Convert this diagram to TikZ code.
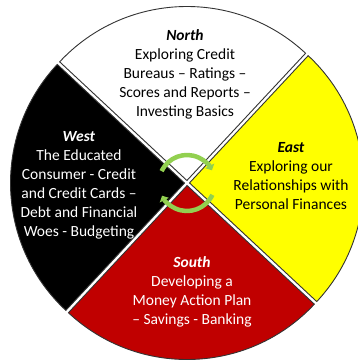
\documentclass[tikz,border=0pt]{standalone}
\usepackage{fontspec}
\setmainfont{Carlito}
\usepackage{tikz}
\usetikzlibrary{arrows.meta,positioning,calc}
\definecolor{wheelred}{RGB}{192,0,0}
\definecolor{wheelyellow}{RGB}{255,255,0}
\definecolor{cyclegreen}{RGB}{146,208,80}
\tikzset{
  wedge/.style={draw=black!80,line width=0.9pt},
  quarter text/.style={align=center,inner sep=0,font=\fontsize{15.5}{19}\selectfont},
  cycle arrow/.style={draw=cyclegreen,line width=4.5pt,-{Triangle[width=10pt,length=5pt]}}
}

\begin{document}
\begin{tikzpicture}[x=1pt,y=1pt]
    \useasboundingbox (0,0) rectangle (358,-361);
    \coordinate (c) at (187,-183);
    % Wedges: start angle / colour
    \foreach \a/\col in {47/white,137/black,227/wheelred,317/wheelyellow}
      \filldraw[wedge,fill=\col] ($(c)+(\a+45:2.5)$) -- +(\a:174)
        arc[start angle=\a,end angle=\a+90,radius=174] -- cycle;
    % Cycle arrows
    \draw[cycle arrow] ($(c)+(155:28)$) arc[start angle=155,end angle=27,radius=28];
    \draw[cycle arrow] ($(c)+(-25:28)$) arc[start angle=-25,end angle=-153,radius=28];
    % Labels
    \node[quarter text,text=black] (north) at (185,-74)
      {\textbf{\textit{North}}\\Exploring Credit\\Bureaus – Ratings –\\Scores and Reports –\\Investing Basics};
    \node[quarter text,text=white] (west) at (79,-185)
      {\textbf{\textit{West}}\\The Educated\\Consumer - Credit\\and Credit Cards –\\Debt and Financial\\Woes - Budgeting};
    \node[quarter text,text=black] (east) at (291,-176)
      {\textbf{\textit{East}}\\Exploring our\\Relationships with\\Personal Finances};
    \node[quarter text,text=white] (south) at (192,-292)
      {\textbf{\textit{South}}\\Developing a\\Money Action Plan\\– Savings - Banking};
\end{tikzpicture}
\end{document}
